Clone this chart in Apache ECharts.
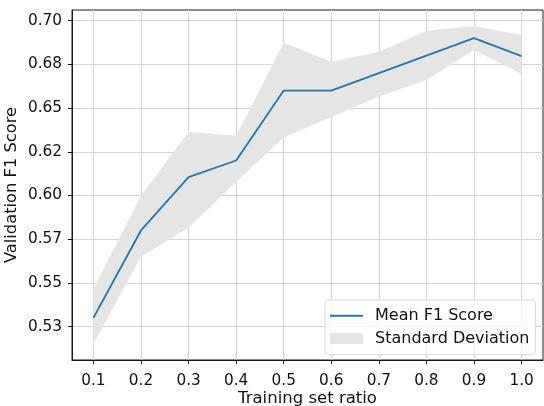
<html>
  <head>
    <script src="https://cdn.jsdelivr.net/npm/echarts@6/dist/echarts.min.js"></script>
    <style>
      body { margin: 0px; background: white; }
      #chart { width: 544px; height: 406px; }
    </style>
  </head>
  <body>
    <div id="chart"></div>
  </body>
</html>
<script type="text/javascript">
  // values
  const ratios = [0.1, 0.2, 0.3, 0.4, 0.5, 0.6, 0.7, 0.8, 0.9, 1.0]
  const meanF1 = [0.530, 0.580, 0.6105, 0.620, 0.660, 0.660, 0.670, 0.680, 0.690, 0.6797]
  const stdLower = [0.5151, 0.565, 0.5815, 0.6077, 0.6332, 0.6449, 0.6566, 0.666, 0.6832, 0.6695]
  const stdUpper = [0.5466, 0.5998, 0.6364, 0.6342, 0.6874, 0.6765, 0.6822, 0.6943, 0.697, 0.6918]
  const yTicks = [0.525, 0.55, 0.575, 0.6, 0.625, 0.65, 0.675, 0.7]
  const yTickLabels = ['0.53', '0.55', '0.57', '0.60', '0.62', '0.65', '0.68', '0.70']

  const font = 'DejaVu Sans'
  const chart = echarts.init(document.getElementById('chart'))

  const pairs = (ys) => ratios.map((x, i) => [x, ys[i]])

  // the std band as one polygon: upper edge left->right, lower edge back
  function renderBand(params, api) {
    if (params.dataIndex !== 0) return
    const pts = []
    for (let i = 0; i < ratios.length; i++) pts.push(api.coord([ratios[i], stdUpper[i]]))
    for (let i = ratios.length - 1; i >= 0; i--) pts.push(api.coord([ratios[i], stdLower[i]]))
    return {
      type: 'polygon',
      shape: { points: pts },
      style: { fill: '#e5e5e5' }
    }
  }

  let option = {
    animation: false,
    textStyle: { fontFamily: font },
    grid: {
      left: 72, right: 1, top: 10, bottom: 46,
      outerBoundsMode: 'none',
      show: true, borderColor: '#1a1a1a', borderWidth: 1
    },
    legend: {
      left: 325, top: 300,
      orient: 'vertical',
      itemWidth: 33, itemHeight: 11, itemGap: -9,
      symbolKeepAspect: true,
      padding: [0, 6, 0, 5],
      borderColor: '#d8d8d8', borderWidth: 1, borderRadius: 3,
      backgroundColor: 'rgba(255,255,255,0.8)',
      textStyle: { fontFamily: font, fontSize: 16, color: '#111', lineHeight: 18, padding: [0, 0, 0, 7] },
      data: [
        { name: 'Mean F1 Score', icon: 'path://M0,0H33V2H0Z', itemStyle: { color: '#1f77b4' } },
        { name: 'Standard Deviation', icon: 'rect', itemStyle: { color: '#e5e5e5' } }
      ]
    },
    xAxis: {
      type: 'value',
      min: 0.055, max: 1.045,
      name: 'Training set ratio',
      nameLocation: 'middle', nameGap: 22, nameMoveOverlap: false,
      nameTextStyle: { fontFamily: font, fontSize: 16.5, color: '#111' },
      axisLine: { show: true, lineStyle: { color: '#1a1a1a', width: 1 } },
      axisTick: { show: true, length: 4, lineStyle: { color: '#1a1a1a' }, customValues: ratios },
      axisLabel: {
        fontFamily: font, fontSize: 15.3, color: '#111', margin: 6,
        customValues: ratios,
        formatter: (v) => v.toFixed(1)
      },
      splitLine: { show: true, lineStyle: { color: '#d4d4d4', width: 1 } }
    },
    yAxis: {
      type: 'value',
      min: 0.5059, max: 0.7061,
      name: 'Validation F1 Score',
      nameLocation: 'middle', nameGap: 44, nameMoveOverlap: false,
      nameTextStyle: { fontFamily: font, fontSize: 16.3, color: '#111' },
      axisLine: { show: true, lineStyle: { color: '#1a1a1a', width: 1 } },
      axisTick: { show: true, length: 4, lineStyle: { color: '#1a1a1a' }, customValues: yTicks },
      axisLabel: {
        fontFamily: font, fontSize: 15.3, color: '#111', margin: 10,
        customValues: yTicks,
        formatter: (v) => {
          const i = yTicks.findIndex((t) => Math.abs(t - v) < 1e-6)
          return i >= 0 ? yTickLabels[i] : ''
        }
      },
      splitLine: { show: true, lineStyle: { color: '#d4d4d4', width: 1 } }
    },
    series: [
      {
        name: 'Standard Deviation',
        type: 'custom',
        renderItem: renderBand,
        data: pairs(stdUpper),
        color: '#e5e5e5',
        silent: true,
        z: 1
      },
      {
        name: 'Mean F1 Score',
        type: 'line',
        data: pairs(meanF1),
        symbol: 'none',
        color: '#1f77b4',
        lineStyle: { color: '#1f77b4', width: 1.8 },
        z: 5
      }
    ]
  }

  chart.setOption(option)
</script>
